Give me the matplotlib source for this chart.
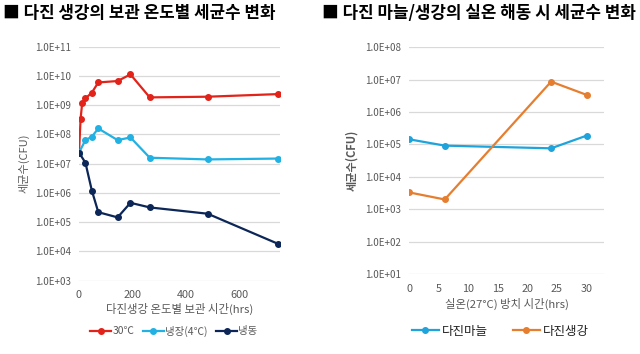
import numpy as np
import matplotlib
matplotlib.use('Agg')
import matplotlib.pyplot as plt
from matplotlib.ticker import FixedLocator, FuncFormatter, NullLocator

plt.rcParams['font.family'] = ['Noto Sans CJK KR', 'DejaVu Sans']

# Left chart: storage time (hrs) vs CFU by temperature
hours_30 = [0, 6, 12, 24, 48, 72, 144, 192, 264, 480, 744]
cfu_30 = [2.4e7, 3.5e8, 1.2e9, 1.7e9, 2.7e9, 6.0e9, 6.7e9, 1.13e10, 1.85e9, 1.95e9, 2.4e9]
hours_cold = [0, 24, 48, 72, 144, 192, 264, 480, 744]
cfu_fridge = [2.4e7, 6.4e7, 8.4e7, 1.6e8, 6.4e7, 7.9e7, 1.6e7, 1.4e7, 1.5e7]
cfu_frozen = [2.4e7, 1.08e7, 1.2e6, 2.2e5, 1.46e5, 4.6e5, 3.2e5, 1.95e5, 1.8e4]
labels_left = ['30℃', '냉장(4℃)', '냉동']

# Right chart: thawing at room temperature
hours_room = [0, 6, 24, 30]
cfu_garlic = [1.44e5, 9.2e4, 7.6e4, 1.87e5]
cfu_ginger = [3.3e3, 2.0e3, 8.7e6, 3.4e6]
labels_right = ['다진마늘', '다진생강']

gray = '#595959'
grid_c = '#d9d9d9'


def sci_fmt(v, pos):
    return '1.0E+%02d' % int(round(np.log10(v)))


def style_axis(ax, ymin_exp, ymax_exp):
    ax.set_yscale('log')
    ax.set_ylim(10.0 ** ymin_exp, 10.0 ** ymax_exp)
    ax.yaxis.set_major_locator(FixedLocator([10.0 ** e for e in range(ymin_exp, ymax_exp + 1)]))
    ax.yaxis.set_minor_locator(NullLocator())
    ax.yaxis.set_major_formatter(FuncFormatter(sci_fmt))
    ax.grid(axis='y', color=grid_c, linewidth=0.9)
    ax.set_axisbelow(True)
    for s in ax.spines.values():
        s.set_visible(False)
    ax.tick_params(axis='both', length=0, labelsize=7, colors=gray, pad=6)
    ax.tick_params(axis='x', labelsize=7.8, pad=7)


fig = plt.figure(figsize=(6.4, 3.54), dpi=100)
leg_y = 1 - 331 / 354

# left
ax1 = fig.add_axes([79 / 640, 1 - 280.7 / 354, 201 / 640, 234 / 354])
style_axis(ax1, 3, 11)
ax1.set_xlim(0, 750)
ax1.set_xticks([0, 200, 400, 600])
kw = dict(marker='o', markersize=4, linewidth=1.6)
ax1.plot(hours_30, cfu_30, color='#e2231a', label=labels_left[0], **kw)
ax1.plot(hours_cold, cfu_fridge, color='#21b1e3', label=labels_left[1], **kw)
ax1.plot(hours_cold, cfu_frozen, color='#0c2657', label=labels_left[2], **kw)
ax1.set_xlabel('다진생강 온도별 보관 시간(hrs)', fontsize=8.2, color=gray, labelpad=2)
ax1.set_ylabel('세균수(CFU)', fontsize=8, color=gray, labelpad=4)
leg1 = ax1.legend(loc='center', bbox_to_anchor=(174 / 640, leg_y), bbox_transform=fig.transFigure,
                  ncol=3, frameon=False, fontsize=7.5, handlelength=2.0, handletextpad=0.15,
                  columnspacing=0.8, borderpad=0)
for t in leg1.get_texts():
    t.set_color(gray)

# right
ax2 = fig.add_axes([409.3 / 640, 1 - 274 / 354, 195 / 640, 226.7 / 354])
style_axis(ax2, 1, 8)
ax2.set_xlim(0, 33)
ax2.set_xticks([0, 5, 10, 15, 20, 25, 30])
ax2.plot(hours_room, cfu_garlic, color='#1ea4dc', label=labels_right[0], **kw)
ax2.plot(hours_room, cfu_ginger, color='#e67e30', label=labels_right[1], **kw)
ax2.set_xlabel('실온(27°C) 방치 시간(hrs)', fontsize=8.2, color=gray, labelpad=3)
ax2.set_ylabel('세균수(CFU)', fontsize=8, color=gray, fontweight='bold', labelpad=5)
leg2 = ax2.legend(loc='center', bbox_to_anchor=(500 / 640, leg_y), bbox_transform=fig.transFigure,
                  ncol=2, frameon=False, fontsize=9, handlelength=2.2, handletextpad=0.2,
                  columnspacing=2.0, borderpad=0)
for t in leg2.get_texts():
    t.set_color('#222222')

fig.text(3 / 640, 1 - 13 / 354, '■ 다진 생강의 보관 온도별 세균수 변화', fontsize=12.1,
         fontweight='bold', va='center', ha='left', color='black')
fig.text(322 / 640, 1 - 13 / 354, '■ 다진 마늘/생강의 실온 해동 시 세균수 변화', fontsize=12.1,
         fontweight='bold', va='center', ha='left', color='black')

fig.savefig('out.png', dpi=100)
